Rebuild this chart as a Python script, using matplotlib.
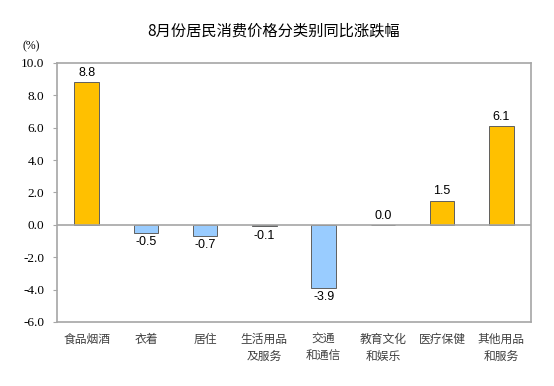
import matplotlib
matplotlib.use("Agg")
import matplotlib.pyplot as plt

categories = ["食品烟酒", "衣着", "居住", "生活用品\n及服务", "交通\n和通信", "教育文化\n和娱乐", "医疗保健", "其他用品\n和服务"]
values = [8.8, -0.5, -0.7, -0.1, -3.9, 0.0, 1.5, 6.1]
yticks = [-6.0, -4.0, -2.0, 0.0, 2.0, 4.0, 6.0, 8.0, 10.0]
title = "8月份居民消费价格分类别同比涨跌幅"

plt.rcParams['font.family'] = ['Noto Sans CJK SC', 'DejaVu Sans']

fig = plt.figure(figsize=(5.54, 3.86), dpi=100)
ax = fig.add_axes([57/554, 1-322/386, (531-57)/554, (322-63)/386])

colors = ['#FFC000' if v >= 0 else '#99CCFF' for v in values]
x = range(len(categories))
ax.bar(x, values, width=0.41, color=colors, edgecolor='#5f5f5f', linewidth=0.7, zorder=3)
ax.axhline(0, color='#a6a6a6', linewidth=1.2, zorder=4)

for i, v in enumerate(values):
    if v >= 0:
        ax.text(i, v + 0.2, f"{v:.1f}", ha='center', va='bottom', fontsize=9,
                family=['Liberation Sans'], zorder=5)
    else:
        ax.text(i, v - 0.2, f"{v:.1f}", ha='center', va='top', fontsize=9,
                family=['Liberation Sans'], zorder=5)

ax.set_xlim(-0.5, len(categories) - 0.5)
ax.set_ylim(-6, 10)
ax.set_yticks(yticks)
ax.set_yticklabels([f"{t:.1f}" for t in yticks], family=['Liberation Serif'], fontsize=9.5)
ax.set_xticks(list(x))
ax.set_xticklabels(categories, fontsize=8.5, color='#404040', linespacing=1.4, va='top')
ax.tick_params(axis='x', length=0, pad=8)
ax.tick_params(axis='y', length=3, color='#a6a6a6', pad=6)
for s in ax.spines.values():
    s.set_color('#a6a6a6')
    s.set_linewidth(1.2)

fig.text(274/554, 1-31/386, title, ha='center', va='center', fontsize=11)
fig.text(31/554, 1-46/386, "(%)", ha='center', va='center', fontsize=8.5, family=['Liberation Serif'])

fig.savefig("out.png", dpi=100)
